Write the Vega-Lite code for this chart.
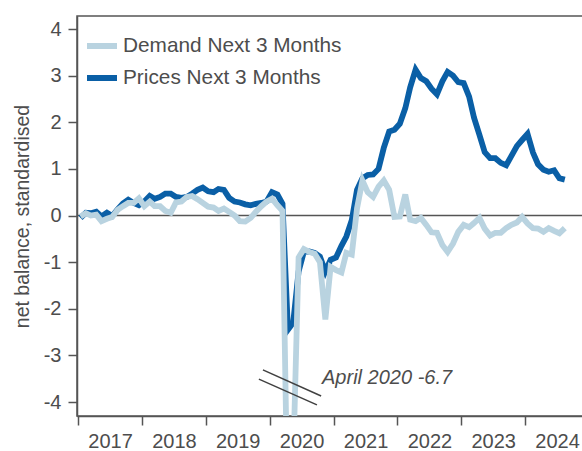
{
  "$schema": "https://vega.github.io/schema/vega-lite/v6.json",
  "width": 510,
  "height": 400,
  "autosize": {"type": "none"},
  "padding": {"left": 77, "top": 16, "right": 0, "bottom": 35},
  "background": "white",
  "config": {
    "font": "Liberation Sans",
    "view": {"stroke": "#555555", "strokeWidth": 1.5},
    "axis": {
      "domainColor": "#555555", "domainWidth": 1.5,
      "tickColor": "#555555", "tickWidth": 1.5,
      "grid": false, "labelColor": "#4d4d4d", "labelFontSize": 20,
      "titleColor": "#4d4d4d", "titleFontWeight": "normal"
    }
  },
  "data": {"values": [
    {"date": "2017-01-15", "demand": -0.02, "prices": -0.05},
    {"date": "2017-02-15", "demand": 0.05, "prices": 0.06},
    {"date": "2017-03-15", "demand": 0.0, "prices": 0.05},
    {"date": "2017-04-15", "demand": 0.02, "prices": 0.08},
    {"date": "2017-05-15", "demand": -0.12, "prices": -0.02},
    {"date": "2017-06-15", "demand": -0.07, "prices": 0.06},
    {"date": "2017-07-15", "demand": -0.03, "prices": -0.01},
    {"date": "2017-08-15", "demand": 0.12, "prices": 0.13},
    {"date": "2017-09-15", "demand": 0.2, "prices": 0.26},
    {"date": "2017-10-15", "demand": 0.27, "prices": 0.34},
    {"date": "2017-11-15", "demand": 0.27, "prices": 0.27},
    {"date": "2017-12-15", "demand": 0.37, "prices": 0.22},
    {"date": "2018-01-15", "demand": 0.2, "prices": 0.3},
    {"date": "2018-02-15", "demand": 0.3, "prices": 0.42},
    {"date": "2018-03-15", "demand": 0.2, "prices": 0.36},
    {"date": "2018-04-15", "demand": 0.2, "prices": 0.4},
    {"date": "2018-05-15", "demand": 0.1, "prices": 0.47},
    {"date": "2018-06-15", "demand": 0.06, "prices": 0.47},
    {"date": "2018-07-15", "demand": 0.28, "prices": 0.4},
    {"date": "2018-08-15", "demand": 0.3, "prices": 0.38},
    {"date": "2018-09-15", "demand": 0.4, "prices": 0.4},
    {"date": "2018-10-15", "demand": 0.42, "prices": 0.47},
    {"date": "2018-11-15", "demand": 0.35, "prices": 0.55},
    {"date": "2018-12-15", "demand": 0.27, "prices": 0.6},
    {"date": "2019-01-15", "demand": 0.19, "prices": 0.52},
    {"date": "2019-02-15", "demand": 0.17, "prices": 0.5},
    {"date": "2019-03-15", "demand": 0.1, "prices": 0.57},
    {"date": "2019-04-15", "demand": 0.15, "prices": 0.55},
    {"date": "2019-05-15", "demand": 0.08, "prices": 0.38},
    {"date": "2019-06-15", "demand": 0.0, "prices": 0.3},
    {"date": "2019-07-15", "demand": -0.12, "prices": 0.28},
    {"date": "2019-08-15", "demand": -0.13, "prices": 0.24},
    {"date": "2019-09-15", "demand": -0.05, "prices": 0.22},
    {"date": "2019-10-15", "demand": 0.08, "prices": 0.25},
    {"date": "2019-11-15", "demand": 0.2, "prices": 0.27},
    {"date": "2019-12-15", "demand": 0.3, "prices": 0.3},
    {"date": "2020-01-15", "demand": 0.36, "prices": 0.5},
    {"date": "2020-02-15", "demand": 0.22, "prices": 0.45},
    {"date": "2020-03-15", "demand": 0.1, "prices": 0.25},
    {"date": "2020-04-15", "demand": -6.7, "prices": -2.45},
    {"date": "2020-05-15", "demand": -5.3, "prices": -2.3},
    {"date": "2020-06-15", "demand": -0.9, "prices": -1.2},
    {"date": "2020-07-15", "demand": -0.72, "prices": -0.78},
    {"date": "2020-08-15", "demand": -0.78, "prices": -0.77},
    {"date": "2020-09-15", "demand": -0.82, "prices": -0.8},
    {"date": "2020-10-15", "demand": -1.0, "prices": -0.88},
    {"date": "2020-11-15", "demand": -2.23, "prices": -1.2},
    {"date": "2020-12-15", "demand": -1.1, "prices": -0.95},
    {"date": "2021-01-15", "demand": -1.17, "prices": -0.9},
    {"date": "2021-02-15", "demand": -1.22, "prices": -0.65},
    {"date": "2021-03-15", "demand": -0.8, "prices": -0.45},
    {"date": "2021-04-15", "demand": -0.84, "prices": -0.1},
    {"date": "2021-05-15", "demand": 0.15, "prices": 0.55},
    {"date": "2021-06-15", "demand": 0.75, "prices": 0.8},
    {"date": "2021-07-15", "demand": 0.5, "prices": 0.87},
    {"date": "2021-08-15", "demand": 0.4, "prices": 0.88},
    {"date": "2021-09-15", "demand": 0.62, "prices": 1.0},
    {"date": "2021-10-15", "demand": 0.75, "prices": 1.45},
    {"date": "2021-11-15", "demand": 0.55, "prices": 1.8},
    {"date": "2021-12-15", "demand": -0.03, "prices": 1.84},
    {"date": "2022-01-15", "demand": -0.02, "prices": 1.97},
    {"date": "2022-02-15", "demand": 0.45, "prices": 2.3},
    {"date": "2022-03-15", "demand": -0.09, "prices": 2.75},
    {"date": "2022-04-15", "demand": -0.12, "prices": 3.13},
    {"date": "2022-05-15", "demand": -0.05, "prices": 2.95},
    {"date": "2022-06-15", "demand": -0.2, "prices": 2.88},
    {"date": "2022-07-15", "demand": -0.36, "prices": 2.72},
    {"date": "2022-08-15", "demand": -0.37, "prices": 2.6},
    {"date": "2022-09-15", "demand": -0.63, "prices": 2.88},
    {"date": "2022-10-15", "demand": -0.78, "prices": 3.08},
    {"date": "2022-11-15", "demand": -0.6, "prices": 3.0},
    {"date": "2022-12-15", "demand": -0.35, "prices": 2.86},
    {"date": "2023-01-15", "demand": -0.2, "prices": 2.84},
    {"date": "2023-02-15", "demand": -0.25, "prices": 2.55},
    {"date": "2023-03-15", "demand": -0.16, "prices": 2.1},
    {"date": "2023-04-15", "demand": -0.05, "prices": 1.73},
    {"date": "2023-05-15", "demand": -0.28, "prices": 1.36},
    {"date": "2023-06-15", "demand": -0.43, "prices": 1.23},
    {"date": "2023-07-15", "demand": -0.37, "prices": 1.23},
    {"date": "2023-08-15", "demand": -0.37, "prices": 1.13},
    {"date": "2023-09-15", "demand": -0.27, "prices": 1.08},
    {"date": "2023-10-15", "demand": -0.2, "prices": 1.28},
    {"date": "2023-11-15", "demand": -0.15, "prices": 1.49},
    {"date": "2023-12-15", "demand": -0.03, "prices": 1.62},
    {"date": "2024-01-15", "demand": -0.17, "prices": 1.75},
    {"date": "2024-02-15", "demand": -0.27, "prices": 1.35},
    {"date": "2024-03-15", "demand": -0.28, "prices": 1.1},
    {"date": "2024-04-15", "demand": -0.35, "prices": 0.98},
    {"date": "2024-05-15", "demand": -0.27, "prices": 0.94},
    {"date": "2024-06-15", "demand": -0.33, "prices": 0.97},
    {"date": "2024-07-15", "demand": -0.38, "prices": 0.8},
    {"date": "2024-08-15", "demand": -0.27, "prices": 0.77}
  ]},
  "transform": [{"fold": ["demand", "prices"], "as": ["series", "value"]}],
  "layer": [
    {
      "data": {"values": [{"v": 0}]},
      "mark": {"type": "rule", "color": "#555555", "strokeWidth": 1.5},
      "encoding": {
        "y": {"field": "v", "type": "quantitative", "scale": {"domain": [-4.3, 4.28], "nice": false, "zero": false}}
      }
    },
    {
      "transform": [{"filter": "datum.series == 'prices'"}],
      "mark": {"type": "line", "strokeWidth": 5.8, "clip": true},
      "encoding": {
        "x": {
          "field": "date", "type": "temporal",
          "scale": {"type": "utc", "domain": [{"year": 2016, "month": 12, "date": 26, "utc": true}, {"year": 2024, "month": 12, "date": 20, "utc": true}]},
          "axis": {
            "title": null, "format": "%Y", "formatType": "utc",
            "values": [
              {"year": 2017, "month": 1, "date": 1, "utc": true},
              {"year": 2018, "month": 1, "date": 1, "utc": true},
              {"year": 2019, "month": 1, "date": 1, "utc": true},
              {"year": 2020, "month": 1, "date": 1, "utc": true},
              {"year": 2021, "month": 1, "date": 1, "utc": true},
              {"year": 2022, "month": 1, "date": 1, "utc": true},
              {"year": 2023, "month": 1, "date": 1, "utc": true},
              {"year": 2024, "month": 1, "date": 1, "utc": true}
            ],
            "labelOffset": 32, "labelFlush": false, "labelOverlap": false,
            "tickSize": 9, "labelPadding": 6
          }
        },
        "y": {
          "field": "value", "type": "quantitative",
          "scale": {"domain": [-4.3, 4.28], "nice": false, "zero": false},
          "axis": {
            "title": "net balance, standardised", "titleFontSize": 19.5,
            "values": [-4, -3, -2, -1, 0, 1, 2, 3, 4],
            "labelExpr": "'' + datum.value",
            "tickSize": 9, "labelPadding": 7, "titlePadding": 11
          }
        },
        "color": {
          "field": "series", "type": "nominal",
          "scale": {"domain": ["demand", "prices"], "range": ["#b9d3e0", "#0a5fa6"]},
          "legend": {
            "orient": "none", "legendX": 7, "legendY": 12, "title": null,
            "symbolType": "stroke", "symbolSize": 900, "symbolStrokeWidth": 6,
            "labelFontSize": 20.8, "labelColor": "#4d4d4d", "labelOffset": 3,
            "labelLimit": 0, "rowPadding": 2,
            "labelExpr": "datum.value == 'demand' ? 'Demand Next 3 Months' : 'Prices Next 3 Months'"
          }
        }
      }
    },
    {
      "transform": [{"filter": "datum.series == 'demand'"}],
      "mark": {"type": "line", "strokeWidth": 5.8, "clip": true},
      "encoding": {
        "x": {"field": "date", "type": "temporal"},
        "y": {"field": "value", "type": "quantitative"},
        "color": {"field": "series", "type": "nominal"}
      }
    },
    {
      "data": {"values": [
        {"xa": "2019-11-24", "ya": -3.31, "xb": "2020-10-22", "yb": -3.87},
        {"xa": "2019-11-01", "ya": -3.51, "xb": "2020-09-28", "yb": -4.06}
      ]},
      "mark": {"type": "rule", "color": "#404040", "strokeWidth": 1.5},
      "encoding": {
        "x": {"field": "xa", "type": "temporal"},
        "x2": {"field": "xb"},
        "y": {"field": "ya", "type": "quantitative"},
        "y2": {"field": "yb"}
      }
    },
    {
      "data": {"values": [{"x": "2020-10-27", "y": -3.49, "label": "April 2020 -6.7"}]},
      "mark": {"type": "text", "align": "left", "baseline": "middle", "fontStyle": "italic", "fontSize": 20, "color": "#4d4d4d"},
      "encoding": {
        "x": {"field": "x", "type": "temporal"},
        "y": {"field": "y", "type": "quantitative"},
        "text": {"field": "label"}
      }
    }
  ]
}
